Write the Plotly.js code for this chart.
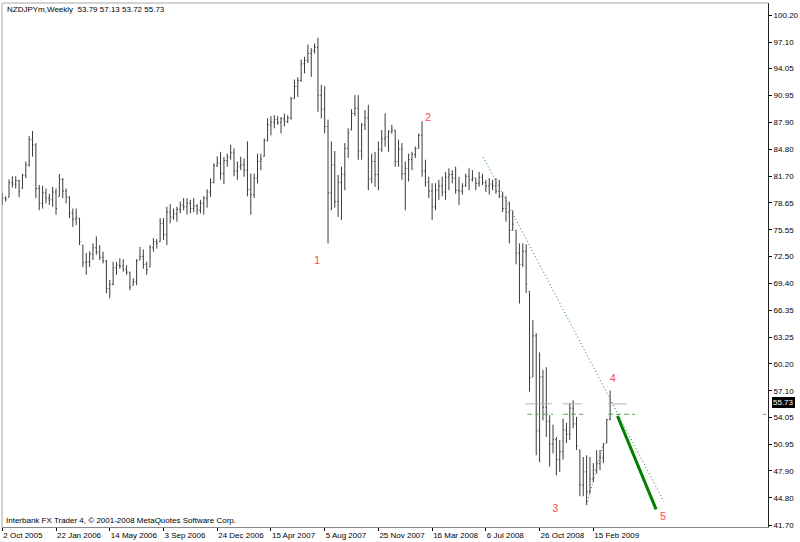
<!DOCTYPE html>
<html><head><meta charset="utf-8">
<script src="https://cdn.plot.ly/plotly-3.0.1.min.js"></script>
<style>html,body{margin:0;padding:0;background:#fff}#chart{width:800px;height:542px}</style>
</head><body><div id="chart"></div>
<script>
// ---- data (weekly bars starting 2 Oct 2005) ----
const symbol = "NZDJPYm";
const timeframe = "Weekly";
const firstWeek = "2005-10-02";

const opens = [
79.0,79.2,79.3,81.0,80.8,81.2,80.3,81.8,83.0,85.9,
85.3,80.3,78.6,79.8,79.2,79.0,79.9,79.4,81.3,80.0,
79.3,77.5,76.8,76.9,73.8,71.8,71.9,72.8,73.5,73.0,
72.4,72.0,68.8,69.3,71.2,71.5,71.4,71.0,70.7,69.2,
69.6,72.1,72.5,71.6,71.3,73.5,74.2,74.2,76.3,75.0,
77.6,77.0,77.4,77.9,78.4,78.2,78.6,78.0,78.3,77.8,
78.6,79.2,79.9,81.0,82.9,83.2,82.0,83.5,83.9,84.4,
82.3,82.8,83.0,82.4,80.2,79.6,81.5,83.4,83.95,85.8,
87.6,87.9,88.2,87.9,88.3,88.0,88.4,90.6,92.0,92.7,
94.6,95.0,95.8,96.1,96.5,91.0,89.4,87.4,79.8,83.0,
78.8,81.0,81.9,84.9,87.0,88.9,89.5,84.6,87.6,88.4,
81.4,83.4,81.9,84.8,86.0,86.2,86.8,87.0,83.4,84.8,
82.0,82.6,83.6,84.2,84.9,86.4,82.3,81.0,80.0,78.2,
80.1,80.6,79.9,81.6,81.9,81.5,80.1,80.0,80.6,81.7,
81.3,81.5,80.9,81.6,81.0,80.6,80.8,80.6,80.0,79.4,
78.0,77.6,75.5,75.5,72.9,71.6,73.1,68.5,58.7,63.4,
52.5,58.7,55.2,53.6,51.0,51.5,49.2,50.1,52.6,52.1,
55.1,53.3,50.3,46.3,47.8,45.5,47.0,48.0,48.8,49.4,
51.1,53.79];

const highs = [
79.8,79.4,81.35,81.7,81.7,81.3,82.0,83.4,86.3,86.9,
85.5,80.7,80.6,80.3,79.7,80.5,80.3,81.96,81.5,80.3,
79.4,78.0,78.0,76.9,73.8,72.9,73.1,74.0,74.8,73.8,
73.05,72.1,69.8,71.9,71.9,72.3,72.2,71.5,70.75,70.0,
72.2,73.6,73.3,71.9,73.8,74.6,74.5,76.9,76.9,78.2,
78.5,78.0,78.2,78.8,79.2,79.2,79.0,79.2,78.5,79.0,
79.4,80.2,81.45,83.2,84.0,84.5,83.9,84.3,85.3,84.9,
83.4,83.95,83.75,85.7,82.0,82.0,84.3,84.3,86.05,88.35,
88.6,88.7,88.6,88.5,88.9,88.7,90.8,92.8,93.05,95.1,
95.4,96.8,96.4,96.95,97.6,92.2,92.05,88.2,85.7,84.6,
81.85,82.8,85.5,87.2,89.4,91.0,91.0,87.8,89.3,89.9,
84.3,84.5,85.7,87.0,88.9,87.0,87.6,87.0,85.9,85.5,
83.4,84.3,84.5,85.1,86.6,88.0,83.6,81.65,80.9,80.9,
81.3,81.65,82.2,82.6,82.4,82.8,81.65,80.9,82.0,82.6,
82.4,81.5,82.2,82.0,81.3,81.5,81.3,81.5,81.3,79.9,
79.4,78.8,77.8,75.5,74.0,74.0,73.9,68.5,65.2,63.7,
61.5,59.5,59.8,54.3,53.2,51.8,51.45,53.9,53.4,55.7,
56.0,54.1,50.3,49.5,49.7,49.5,48.8,50.3,50.3,51.1,
53.85,57.13];

const lows = [
78.4,78.8,79.3,80.4,80.3,79.3,80.3,81.5,82.8,83.95,
79.2,77.8,78.0,78.6,78.4,78.2,77.3,79.4,79.2,78.6,
76.9,75.9,76.1,73.8,71.3,70.4,71.3,72.1,72.7,72.1,
71.7,68.3,67.7,69.2,70.4,71.1,70.75,70.4,68.65,69.2,
69.2,72.1,71.1,70.4,71.3,73.05,73.4,74.2,74.4,73.8,
76.3,76.7,76.5,77.45,77.8,77.3,77.45,77.6,77.3,77.45,
77.3,78.1,79.35,80.9,82.8,81.3,80.8,82.8,83.6,81.7,
81.3,82.4,81.65,79.4,77.3,79.2,80.9,82.4,83.95,85.7,
86.4,87.2,87.6,86.6,87.4,87.8,88.2,90.6,90.8,92.55,
93.5,94.7,93.1,95.8,89.1,88.35,86.6,74.0,77.8,78.1,
77.05,76.7,80.1,83.8,87.0,88.6,83.6,83.6,87.0,80.1,
80.9,80.5,80.1,84.5,85.1,84.5,86.6,82.8,82.8,81.3,
77.8,81.1,82.4,83.8,84.9,81.65,80.5,79.2,76.7,77.8,
79.0,79.4,79.0,80.1,80.9,79.7,78.4,79.6,80.5,80.1,
81.1,80.1,80.5,80.7,79.9,79.6,80.1,79.7,79.2,77.6,
76.5,74.0,75.5,71.6,67.1,71.3,68.3,57.0,58.7,49.7,
48.9,53.7,51.8,48.4,49.9,47.4,47.8,49.2,51.1,51.45,
52.8,50.3,45.0,45.0,44.0,45.3,46.6,47.6,48.0,48.8,
51.1,53.72];

const closes = [
79.2,79.1,81.0,80.8,81.2,80.0,81.8,83.0,85.9,85.3,
80.3,78.6,79.8,79.2,79.0,79.9,78.0,81.3,80.0,79.3,
77.5,76.8,77.0,74.2,71.8,71.9,72.8,73.5,73.0,72.4,
72.0,68.8,69.3,71.2,71.5,71.4,71.0,70.7,69.0,69.6,
72.0,72.5,71.6,71.0,73.5,74.2,74.0,76.3,75.0,77.6,
77.0,77.4,77.9,78.4,78.2,78.6,78.0,78.3,77.8,78.6,
79.2,79.9,81.0,82.9,83.2,82.0,83.5,83.9,84.4,82.3,
82.8,83.0,82.4,80.2,79.6,81.5,83.4,83.7,85.8,87.6,
87.9,88.2,87.9,88.3,88.0,88.4,90.6,92.0,92.7,94.6,
95.0,95.8,96.1,96.5,91.0,89.4,87.4,79.8,83.0,78.8,
81.0,81.9,84.9,86.7,88.9,89.5,84.6,87.6,88.4,81.4,
83.4,81.9,84.8,86.0,86.2,86.8,87.0,83.4,84.8,82.0,
82.6,83.6,84.2,84.9,86.4,82.3,81.0,80.0,78.2,80.1,
80.6,79.9,81.6,81.9,81.5,80.1,80.0,80.6,81.7,81.3,
81.5,80.9,81.6,81.0,80.6,80.8,80.6,80.0,79.4,78.0,
77.6,75.5,76.2,72.9,71.6,73.1,69.3,58.6,63.4,52.5,
58.7,55.2,53.6,51.0,51.5,49.2,50.1,52.6,52.1,55.1,
53.3,50.8,46.3,47.8,45.5,47.0,48.0,48.8,49.4,51.0,
53.79,55.73];

// axis labels
const xTickBars = [0,16,32,48,64,80,96,112,128,144,160,176];
const xTickLabels = ["2 Oct 2005","22 Jan 2006","14 May 2006","3 Sep 2006","24 Dec 2006",
  "15 Apr 2007","5 Aug 2007","25 Nov 2007","16 Mar 2008","6 Jul 2008","26 Oct 2008","15 Feb 2009"];
const yTickLabels = ["100.20","97.10","94.05","90.95","87.90","84.80","81.70","78.65","75.55","72.50",
  "69.40","66.35","63.25","60.20","57.10","54.05","50.95","47.90","44.80","41.70"];

// Elliott wave marks and drawn objects (bar position, price)
const waveText = ["1","2","3","4","5"];
const waveBar  = [93.7, 126.8, 164.7, 181.8, 196.8];
const wavePrice= [72.0, 88.3, 43.5, 58.45, 42.55];
const trendA_bar = [143.2, 197.0],  trendA_price = [83.9, 44.4];
const trendB_bar = [174.0, 179.0],  trendB_price = [44.0, 51.0];
const wave5_bar  = [183.2, 194.7],  wave5_price  = [54.2, 43.5];
const grayLevel = 55.6;
const grayLevelBars = [[155.7,163.7],[167.0,172.6],[180.4,186.0]];
const greenLevel = 54.4;
const greenLevelBars = [[156.3,164.0],[167.0,173.0],[180.4,188.4],[226.6,227.5]];
const footerText = "Interbank FX Trader 4, \u00a9 2001-2008 MetaQuotes Software Corp.";

// ---- build ----
const t0 = Date.parse(firstWeek + "T00:00:00Z");
const WEEK = 7*864e5;
const wk = k => t0 + k*WEEK;
const dates = closes.map((_, i) => wk(i));
const FONT = "Liberation Sans, Arial, sans-serif";

function segs(level, list){
  const x=[], y=[];
  list.forEach(s => { x.push(wk(s[0]), wk(s[1]), null); y.push(level, level, null); });
  return {x, y};
}
const g1 = segs(grayLevel, grayLevelBars);
const g2 = segs(greenLevel, greenLevelBars);

const traces = [
  {type:'scatter', mode:'lines', x:g1.x, y:g1.y, line:{color:'#b4b4b4', width:1}, hoverinfo:'skip'},
  {type:'scatter', mode:'lines', x:g2.x, y:g2.y, line:{color:'#5aa35a', width:1, dash:'5px,3px'}, hoverinfo:'skip'},
  {type:'ohlc', x:dates, open:opens, high:highs, low:lows, close:closes,
   increasing:{line:{color:'#3a3a3a', width:1}}, decreasing:{line:{color:'#3a3a3a', width:1}},
   tickwidth:0.3, hoverinfo:'none'},
  {type:'scatter', mode:'lines', x:trendA_bar.map(wk), y:trendA_price, line:{color:'#1a8a1a', width:1, dash:'1px,2.5px'}, hoverinfo:'skip'},
  {type:'scatter', mode:'lines', x:trendB_bar.map(wk), y:trendB_price, line:{color:'#1a8a1a', width:1, dash:'1px,2.5px'}, hoverinfo:'skip'},
  {type:'scatter', mode:'lines', x:wave5_bar.map(wk), y:wave5_price, line:{color:'#008000', width:3}, hoverinfo:'skip'},
  {type:'scatter', mode:'text', x:waveBar.map(wk), y:wavePrice, text:waveText,
   textposition:'middle center', textfont:{family:FONT, size:11, color:'#ff4a5a'}, hoverinfo:'skip'}
];

const last = closes.length-1;
const header = symbol + "," + timeframe + "  " + [opens[last],highs[last],lows[last],closes[last]].map(v=>v.toFixed(2)).join(" ");

const layout = {
  width:800, height:542,
  margin:{l:2, r:32, t:3, b:15, pad:0},
  paper_bgcolor:'#fff', plot_bgcolor:'#fff',
  showlegend:false,
  font:{family:FONT, size:8, color:'#000'},
  xaxis:{type:'date', range:[wk(-0.09), wk(228.02)], rangeslider:{visible:false},
    tickvals:xTickBars.map(wk), ticktext:xTickLabels, ticks:'outside', ticklen:3, tickcolor:'#000',
    ticklabelposition:'outside right', tickangle:0, automargin:false,
    showgrid:false, zeroline:false, showline:true, linecolor:'#888', linewidth:1,
    tickfont:{family:FONT, size:8, color:'#000'}, fixedrange:true},
  yaxis:{side:'right', range:[41.471, 101.576], tickvals:yTickLabels.map(parseFloat), ticktext:yTickLabels,
    ticks:'outside', ticklen:3, tickcolor:'#000', showgrid:false, zeroline:false, automargin:false,
    showline:true, linecolor:'#222', linewidth:1,
    tickfont:{family:FONT, size:8, color:'#000'}, fixedrange:true},
  shapes:[
    {type:'line', xref:'paper', yref:'paper', x0:0, x1:0, y0:0, y1:1, line:{color:'#a8a8a8', width:1}},
    {type:'line', xref:'paper', yref:'paper', x0:0, x1:1, y0:1, y1:1, line:{color:'#a8a8a8', width:1}}
  ],
  annotations:[
    {xref:'paper', yref:'paper', x:0.004, y:0.9885, xanchor:'left', yanchor:'middle', showarrow:false,
     text:header, font:{family:FONT, size:8, color:'#000'}},
    {xref:'paper', yref:'paper', x:0.003, y:0.0115, xanchor:'left', yanchor:'middle', showarrow:false,
     text:footerText, font:{family:FONT, size:8, color:'#000'}},
    {xref:'paper', yref:'y', x:1.0052, y:closes[last], xanchor:'left', yanchor:'middle', showarrow:false,
     text:closes[last].toFixed(2), bgcolor:'#000', borderpad:1, borderwidth:0,
     font:{family:FONT, size:8, color:'#fff'}}
  ]
};

Plotly.newPlot('chart', traces, layout, {displayModeBar:false, staticPlot:true});
</script>
</body></html>
